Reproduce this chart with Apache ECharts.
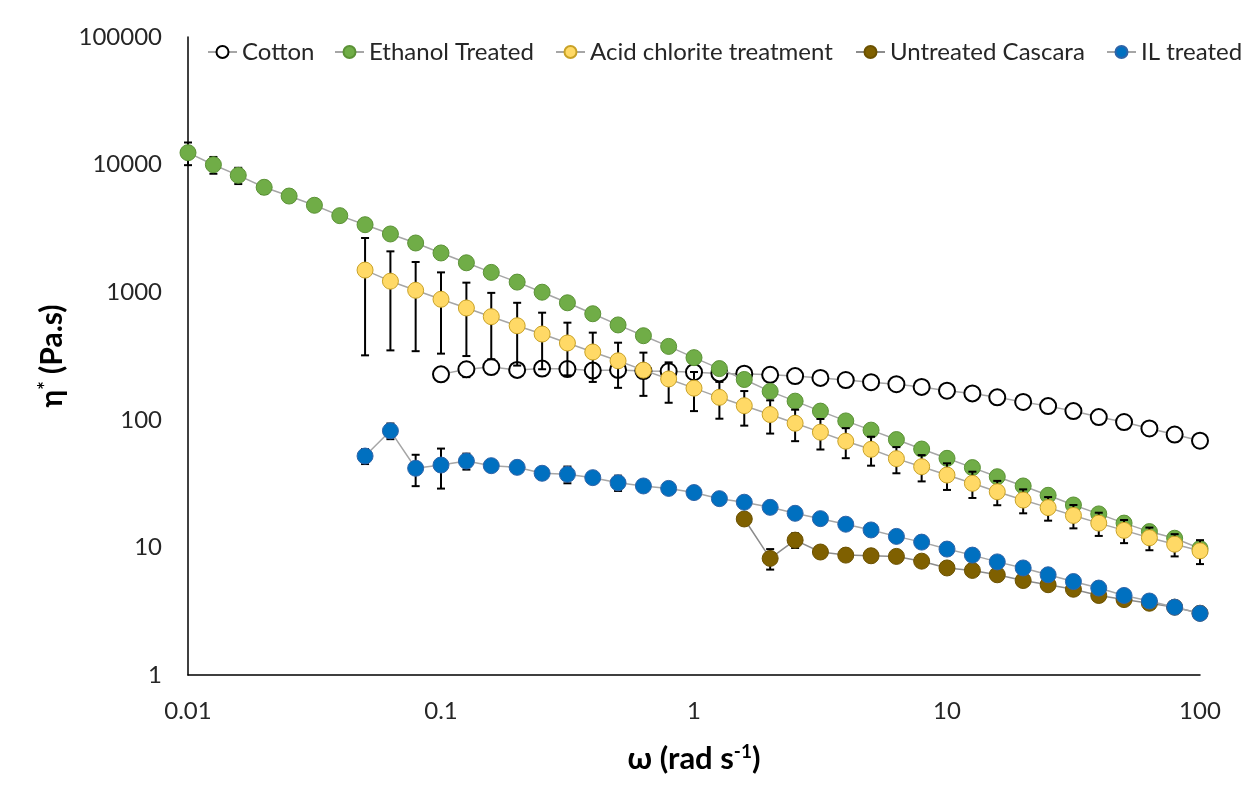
<!DOCTYPE html>
<html>
<head>
<meta charset="utf-8">
<script src="https://cdn.jsdelivr.net/npm/echarts@6/dist/echarts.min.js"></script>
<style>
  html, body { margin: 0; padding: 0; background: #fff; }
  #chart { width: 1243px; height: 788px; }
</style>
</head>
<body>
<div id="chart"></div>
<script>
// Angular frequency (rad/s), 10 points per decade
const omega = [0.01, 0.0126, 0.0158, 0.02, 0.0251, 0.0316, 0.0398, 0.0501, 0.0631, 0.0794,
  0.1, 0.126, 0.158, 0.2, 0.251, 0.316, 0.398, 0.501, 0.631, 0.794,
  1, 1.26, 1.58, 2, 2.51, 3.16, 3.98, 5.01, 6.31, 7.94,
  10, 12.6, 15.8, 20, 25.1, 31.6, 39.8, 50.1, 63.1, 79.4, 100];

const seriesNames = ['Cotton', 'Ethanol Treated', 'Acid chlorite treatment', 'Untreated Cascara', 'IL treated'];

// Cotton: 0.1 .. 100
const cotton = [227, 249, 259, 246, 252, 250, 243, 246, 241, 240,
  236, 231, 230, 225, 220, 213, 205, 197, 190, 181,
  169, 161, 150, 138, 128, 117, 105, 96, 85.5, 76.6, 68.6];
const cottonErr = [0, 33, 10, 0, 0, 0, 0, 0, 0, 0,
  0, 0, 0, 0, 0, 0, 0, 0, 0, 0,
  0, 0, 0, 0, 0, 0, 0, 0, 0, 0, 0];

// Ethanol treated: 0.01 .. 100
const ethanol = [12400, 9980, 8240, 6640, 5670, 4800, 3980, 3380, 2860, 2430,
  2030, 1700, 1430, 1200, 1000, 826, 678, 554, 456, 376,
  307, 252, 207, 167, 140, 117, 98, 83, 70, 59,
  49.9, 42.2, 35.8, 30.3, 25.6, 21.5, 18.3, 15.5, 13.3, 11.8, 9.8];
const ethanolErr = [2500, 1500, 1200, 750, 0, 0, 0, 0, 0, 0,
  0, 0, 0, 0, 0, 0, 0, 0, 0, 0,
  0, 0, 0, 0, 0, 0, 0, 0, 0, 0,
  0, 0, 0, 0, 0, 0, 0, 0, 0, 0, 0];

// Acid chlorite treatment: 0.0501 .. 100
const acid = [1490, 1220, 1035, 880, 752, 643, 546, 470, 400, 340, 290, 245, 209,
  177, 150, 129, 110, 94, 80, 68, 58.7, 49.6, 42.9,
  36.9, 31.8, 27.3, 23.5, 20.5, 17.8, 15.5, 13.6, 11.9, 10.6, 9.4];
const acidErr = [1170, 870, 690, 550, 436, 345, 280, 221, 177, 142, 112, 91, 73,
  60, 48, 39, 32, 26, 21.5, 18, 15, 11.5, 10,
  8.7, 7.4, 5.9, 5, 4.3, 3.7, 3.2, 2.8, 2.4, 2.1, 2.0];

// Untreated Cascara: 1.58 .. 100
const cascara = [16.7, 8.2, 11.4, 9.2, 8.7, 8.6, 8.5, 7.8,
  6.9, 6.6, 6.1, 5.5, 5.1, 4.7, 4.2, 3.9, 3.65, 3.4, 3.05];
const cascaraErr = [0, 1.5, 1.5, 0, 0, 0, 0, 0,
  0, 0, 0, 0, 0, 0, 0, 0, 0, 0, 0];

// IL treated: 0.0501 .. 100
const il = [52, 82, 41.7, 44.2, 47.5, 43.7, 42.4, 38.1, 37.4, 35.2, 32.1, 30.3, 29.0,
  26.9, 24.1, 22.6, 20.6, 18.5, 16.8, 15.2, 13.7, 12.2, 11.0,
  9.7, 8.7, 7.7, 6.9, 6.1, 5.4, 4.8, 4.2, 3.8, 3.4, 3.04];
const ilErr = [7, 11.5, 11.5, 15.3, 6.8, 3, 0, 0, 5.6, 0, 4.4, 0, 0,
  0, 0, 0, 0, 0, 0, 0, 0, 0, 0,
  0, 0, 0, 0, 0, 0, 0, 0, 0, 0, 0];

const xTickLabels = ['0.01', '0.1', '1', '10', '100'];
const yTickLabels = ['1', '10', '100', '1000', '10000', '100000'];

function pairs(vals) {
  const xs = omega.slice(omega.length - vals.length);
  return vals.map((v, i) => [xs[i], v]);
}
function errs(vals, e) {
  const xs = omega.slice(omega.length - vals.length);
  const out = [];
  vals.forEach((v, i) => { if (e[i] > 0) out.push([xs[i], v - e[i], v + e[i]]); });
  return out;
}

const FONT = 'Lato';
const styles = [
  { name: seriesNames[0], vals: cotton, err: cottonErr, fill: '#FFFFFF', border: '#000000', bw: 2, line: '#A6A6A6' },
  { name: seriesNames[1], vals: ethanol, err: ethanolErr, fill: '#70AD47', border: '#5B9236', bw: 1, line: '#A6A6A6' },
  { name: seriesNames[2], vals: acid, err: acidErr, fill: '#FFD966', border: '#C9A227', bw: 1, line: '#A6A6A6' },
  { name: seriesNames[3], vals: cascara, err: cascaraErr, fill: '#7F6000', border: '#6B5100', bw: 1, line: '#8C8C8C' },
  { name: seriesNames[4], vals: il, err: ilErr, fill: '#0070C0', border: '#2E64A8', bw: 1, line: '#A6A6A6' }
];

function renderErr(params, api) {
  const x = api.value(0), lo = api.value(1), hi = api.value(2);
  const a = api.coord([x, lo]);
  const b = api.coord([x, hi]);
  const w = 4;
  const st = { stroke: '#000', lineWidth: 2 };
  return {
    type: 'group',
    children: [
      { type: 'line', shape: { x1: a[0], y1: a[1], x2: b[0], y2: b[1] }, style: st },
      { type: 'line', shape: { x1: a[0] - w, y1: a[1], x2: a[0] + w, y2: a[1] }, style: st },
      { type: 'line', shape: { x1: b[0] - w, y1: b[1], x2: b[0] + w, y2: b[1] }, style: st }
    ]
  };
}

const series = [];
styles.forEach((s, i) => {
  series.push({
    name: s.name + ' err',
    type: 'custom',
    renderItem: renderErr,
    data: errs(s.vals, s.err),
    encode: { x: 0, y: [1, 2] },
    z: 2 * i + 1,
    silent: true
  });
  series.push({
    name: s.name,
    type: 'line',
    data: pairs(s.vals),
    symbol: 'circle',
    symbolSize: 16,
    z: 2 * i + 2,
    lineStyle: { color: s.line, width: 1.5 },
    itemStyle: { color: s.fill, borderColor: s.border, borderWidth: s.bw },
    emphasis: { disabled: true },
    animation: false
  });
});

const legendLefts = [207, 334, 555, 855, 1106];
const legends = seriesNames.map((n, i) => ({
  data: [n],
  left: legendLefts[i],
  top: 40,
  padding: 0,
  itemWidth: 29,
  itemHeight: 15,
  itemGap: 0,
  selectedMode: false,
  textStyle: { fontFamily: FONT, fontSize: 24, color: '#262626' }
}));

const chart = echarts.init(document.getElementById('chart'), null, { renderer: 'canvas' });
chart.setOption({
  animation: false,
  backgroundColor: '#fff',
  grid: { left: 188, right: 43, top: 37, bottom: 113, containLabel: false },
  legend: legends,
  xAxis: {
    type: 'log', logBase: 10, min: 0.01, max: 100,
    axisLine: { show: true, lineStyle: { color: '#000', width: 1.5 } },
    axisTick: { show: false },
    minorTick: { show: false },
    splitLine: { show: false },
    axisLabel: {
      margin: 24,
      fontFamily: FONT, fontSize: 24, color: '#262626',
      formatter: v => xTickLabels[Math.round(Math.log10(v)) + 2]
    },
    name: '{b|ω (rad s}{s|-1}{b|)}',
    nameLocation: 'middle',
    nameGap: 67,
    nameTextStyle: {
      rich: {
        b: { fontFamily: FONT, fontSize: 31, fontWeight: 'bold', color: '#000' },
        s: { fontFamily: FONT, fontSize: 19, fontWeight: 'bold', color: '#000', verticalAlign: 'top', padding: [0, 0, 14, 0] }
      }
    }
  },
  yAxis: {
    type: 'log', logBase: 10, min: 1, max: 100000,
    axisLine: { show: true, lineStyle: { color: '#000', width: 1.5 } },
    axisTick: { show: false },
    minorTick: { show: false },
    splitLine: { show: false },
    axisLabel: {
      margin: 26,
      fontFamily: FONT, fontSize: 24, color: '#262626',
      formatter: v => yTickLabels[Math.round(Math.log10(v))]
    },
    name: '{b|η}{s|*}{b| (Pa.s)}',
    nameLocation: 'middle',
    nameRotate: 90,
    nameGap: 90,
    nameTextStyle: {
      rich: {
        b: { fontFamily: FONT, fontSize: 30, fontWeight: 'bold', color: '#000' },
        s: { fontFamily: FONT, fontSize: 20, fontWeight: 'bold', color: '#000', padding: [0, 0, 12, 0] }
      }
    }
  },
  series: series
});
</script>
</body>
</html>
